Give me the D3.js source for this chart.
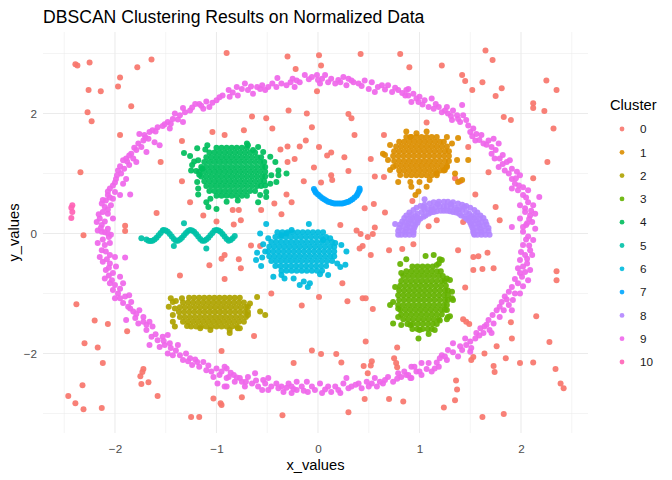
<!DOCTYPE html>
<html><head><meta charset="utf-8">
<script src="https://cdn.jsdelivr.net/npm/d3@7"></script>
<style>body{margin:0;background:#fff;} text{font-family:"Liberation Sans",Arial,Helvetica,sans-serif;}</style>
</head><body><svg id="c" width="672" height="480"></svg>
<script>
const clusterLabels = ["0","1","2","3","4","5","6","7","8","9","10"];
const clusterColors = ["#F8766D","#DB8E00","#AEA200","#64B200","#00BD5C","#00C1A7","#00BADE","#00A6FF","#B385FF","#EF67EB","#FF63B6"];
const xMajor = [-2,-1,0,1,2], xMinor = [-2.5,-1.5,-0.5,0.5,1.5,2.5];
const yMajor = [-2,0,2], yMinor = [-3,-1,1,3];

// cluster 0 (noise)
const noise = [[-2.39,2.82],[-2.37,2.80],[-2.25,2.85],[-1.64,2.90],[-1.78,2.77],[-1.95,2.60],[-1.97,2.45],[-2.26,2.39],[-2.14,2.37],[-1.84,2.12],[-2.27,2.02],[-2.23,1.87],[-1.95,1.64],[-1.04,1.69],[-0.92,1.64],[-1.34,1.54],[-1.55,1.19],[-2.34,1.02],[-1.34,0.87],[-1.26,0.52],[-1.59,0.34],[-1.13,0.30],[-1.00,0.20],[-1.90,0.13],[-1.90,0.04],[-0.90,3.01],
[-0.30,2.95],[0.01,2.97],[0.42,2.99],[0.81,2.99],[0.03,2.80],[-0.22,2.74],[-0.01,2.37],[-0.29,2.05],[-0.11,2.00],[-0.65,1.95],[-0.51,1.92],[0.30,1.99],[0.33,1.92],[-0.45,1.75],[-0.73,1.72],[-0.06,1.77],[0.36,1.64],[0.65,1.64],[-0.12,1.55],[-0.30,1.45],[-0.18,1.45],[-0.37,1.40],[0.01,1.44],[0.13,1.35],[0.09,1.30],[0.26,1.27],[0.52,1.24],[-0.23,1.24],[-0.30,1.19],[-0.04,1.10],[0.30,1.04],[0.13,0.97],[0.14,0.89],[0.56,0.95],[0.65,0.94],[-0.14,0.87],[0.03,0.85],[-0.31,0.65],[-0.43,0.50],[-0.26,0.52],[-0.84,0.39],[-0.78,0.39],[-0.56,0.39],[-0.36,0.32],[0.46,0.42],[0.55,0.49],[0.66,0.35],[-0.83,0.15],[-0.76,0.22],[0.22,0.14],[0.38,0.05],[0.56,0.10],[0.90,2.77],
[1.22,2.80],[1.65,3.05],[1.72,2.89],[1.42,2.64],[1.45,2.54],[1.62,2.52],[1.81,2.42],[1.52,2.39],[1.75,2.29],[2.25,2.55],[2.35,2.39],[2.12,2.17],[2.12,2.09],[2.23,2.04],[2.32,1.75],[1.83,1.94],[1.90,1.89],[1.07,1.85],[1.48,1.44],[2.26,1.19],[1.68,1.02],[1.35,0.92],[1.40,0.87],[2.12,0.92],[1.55,0.65],[0.93,0.54],[1.75,0.44],[1.79,0.22],[1.17,0.22],[1.09,0.12],[1.43,0.19],
[-0.66,-0.20],[-0.57,-0.21],[-0.78,-0.43],[-0.76,-0.58],[-0.92,-0.36],[-0.95,-0.42],[-0.92,-0.76],[-1.07,-0.53],[-1.36,-0.70],[-0.46,-1.00],[-0.16,-1.20],[0.01,-1.06],[0.24,-0.83],[0.29,-1.13],[-0.63,-1.71],[-0.06,-1.95],[0.03,-2.01],[0.18,-2.01],[0.23,-2.15],[-0.24,-2.16],[0.42,-0.01],[0.49,-0.06],[0.54,-0.01],[0.44,-0.21],[0.41,-0.25],[0.52,-0.36],[0.70,-0.28],[0.83,-0.26],[0.94,-0.18],[0.44,-1.08],[0.47,-1.08],[0.54,-1.26],[0.47,-1.80],[0.78,-1.90],[0.75,-2.08],[0.77,-2.16],[0.78,-2.23],[0.53,-2.13],[0.52,-2.20],[0.45,-2.21],[0.49,-2.33],[-0.75,-2.73],[0.46,-2.76],[0.70,-2.76],[0.84,-2.80],[-0.35,-3.03],[0.30,-2.98],
[1.38,-0.28],[1.53,-0.39],[1.58,-0.38],[1.67,-0.32],[1.62,-0.59],[1.53,-0.61],[1.73,-0.58],[1.45,-0.90],[1.43,-1.43],[1.46,-1.47],[1.49,-1.51],[1.90,-1.48],[2.15,-1.38],[2.35,-0.63],[2.35,-0.78],[1.91,-1.75],[1.76,-1.88],[1.64,-2.00],[1.53,-2.06],[1.51,-2.11],[1.85,-2.08],[1.99,-2.16],[2.12,-2.15],[2.28,-1.81],[1.73,-2.21],[1.74,-2.31],[2.34,-2.26],[2.39,-2.50],[2.42,-2.58],[1.36,-2.45],[1.37,-2.60],[1.35,-2.78],[1.24,-2.90],[1.62,-3.06],[1.83,-3.01],
[-2.31,-0.03],[-2.38,-1.18],[-2.20,-1.45],[-2.07,-1.51],[-1.88,-1.63],[-2.30,-1.83],[-2.17,-1.90],[-2.12,-2.16],[-1.72,-2.26],[-1.73,-2.31],[-1.75,-2.38],[-1.67,-2.48],[-1.74,-2.51],[-2.32,-2.53],[-2.46,-2.71],[-2.39,-2.83],[-2.31,-2.93],[-2.13,-2.91],[-1.58,-2.71],[-0.95,-1.96],[-1.03,-2.75],[-0.96,-2.83],[-0.95,-2.86],[-1.25,-3.06],[-1.17,-3.06]];

// cluster 9 (ring)
const ring = [[-0.94,2.30],[-1.00,2.22],[-1.10,2.20],[-1.17,2.16],[-1.21,2.16],[-1.07,2.11],[-1.13,2.08],[-1.26,2.05],[-1.31,2.02],[-1.33,2.09],[-1.41,2.00],[-1.38,1.90],[-1.33,1.86],[-1.43,1.91],[-1.48,1.86],[-1.46,1.75],[-1.53,1.79],[-1.58,1.77],[-1.63,1.72],[-1.66,1.69],[-1.71,1.64],[-1.76,1.66],[-1.72,1.55],[-1.67,1.58],[-1.61,1.52],[-1.56,1.47],[-1.69,1.36],[-1.74,1.44],[-1.79,1.39],[-1.84,1.33],[-1.89,1.25],[-1.92,1.22],[-1.82,1.25],[-1.79,1.19],[-1.86,1.14],[-1.91,1.08],[-1.97,1.05],[-1.94,1.00],[-1.89,0.91],[-1.92,0.83],[-1.99,0.91],[-2.02,0.80],[-2.05,0.75],[-2.00,0.69],[-1.95,0.64],[-2.07,0.64],[-2.09,0.55],[-2.02,0.58],[-2.04,0.47],[-2.10,0.44],[-2.13,0.50],[-2.12,0.36],[-2.07,0.33],[-2.02,0.25],[-2.15,0.25],[-2.18,0.19],[-2.13,0.14],[-2.07,0.08],[-1.85,0.65],[-2.10,0.02],[-2.17,0.05],
[-0.88,2.39],[-0.87,2.28],[-0.80,2.44],[-0.79,2.30],[-0.72,2.50],[-0.69,2.39],[-0.64,2.33],[-0.60,2.44],[-0.55,2.47],[-0.52,2.39],[-0.49,2.44],[-0.41,2.44],[-0.31,2.47],[-0.27,2.52],[-0.23,2.44],[-0.18,2.52],[-0.13,2.64],[-0.06,2.61],[-0.01,2.64],[0.04,2.58],[0.07,2.64],[0.02,2.50],[0.10,2.52],[0.17,2.50],[0.22,2.52],[0.25,2.61],[0.30,2.58],[0.28,2.47],[0.35,2.52],[0.40,2.50],[0.46,2.55],[0.53,2.52],[0.50,2.41],[0.56,2.36],[0.63,2.47],[0.69,2.47],[0.73,2.36],[0.79,2.39],[0.86,2.30],[0.89,2.41],[-0.25,2.58],[-0.40,2.59],
[0.87,2.39],[0.89,2.30],[0.94,2.33],[0.92,2.19],[1.00,2.28],[0.99,2.19],[1.05,2.22],[1.12,2.25],[1.09,2.11],[1.14,2.08],[1.19,2.11],[1.22,2.02],[1.27,2.11],[1.28,2.00],[1.33,2.05],[1.37,1.97],[1.32,1.89],[1.38,1.91],[1.43,1.97],[1.46,1.89],[1.42,2.14],[1.50,1.69],[1.53,1.75],[1.56,1.66],[1.55,1.55],[1.61,1.64],[1.63,1.50],[1.68,1.55],[1.71,1.44],[1.73,1.58],[1.78,1.50],[1.71,1.33],[1.74,1.25],[1.79,1.25],[1.78,1.11],[1.86,1.19],[1.89,1.22],[1.84,1.05],[1.91,1.08],[1.96,1.03],[1.91,0.91],[1.94,0.83],[1.99,0.97],[1.91,0.75],[1.97,0.72],[2.02,0.77],[2.07,0.72],[2.02,0.64],[1.99,0.47],[2.07,0.52],[2.12,0.47],[2.04,0.36],[2.09,0.30],[2.14,0.33],[2.11,0.19],[2.06,0.17],[1.99,0.25],[2.02,0.11],[2.14,0.08],[1.91,0.11],[2.18,0.61],
[2.02,0.03],[2.07,-0.05],[2.12,-0.11],[2.02,-0.19],[2.09,-0.28],[2.04,-0.36],[2.11,-0.36],[1.99,-0.44],[2.06,-0.50],[1.97,-0.58],[2.04,-0.64],[2.09,-0.61],[2.01,-0.72],[1.97,-0.83],[2.07,-0.78],[1.91,-0.89],[1.88,-0.97],[1.94,-1.00],[1.99,-1.00],[1.84,-1.05],[1.92,-1.11],[1.81,-1.14],[1.88,-1.19],[1.76,-1.28],[1.83,-1.28],[1.91,-1.28],[1.79,-1.39],[1.73,-1.50],[1.68,-1.44],[1.64,-1.55],[1.60,-1.58],[1.69,-1.61],[1.56,-1.66],[1.55,-1.75],[1.63,-1.66],[1.45,-1.75],[1.46,-1.86],[1.51,-1.91],[1.42,-1.94],[1.38,-2.05],[1.28,-1.94],[1.22,-2.03],[1.20,-2.08],[1.27,-2.11],[1.15,-2.25],[1.19,-2.22],[1.12,-2.30],[1.02,-2.16],[1.00,-2.30],[1.02,-2.36],[0.92,-2.22],[0.95,-2.22],[0.89,-2.36],[0.92,-2.41],[1.09,-2.16],[1.33,-1.83],[1.71,-1.66],[1.50,-1.97],
[-0.90,-2.25],[-0.88,-2.39],[-0.90,-2.55],[-0.83,-2.36],[-0.77,-2.41],[-0.75,-2.47],[-0.69,-2.39],[-0.62,-2.33],[-0.65,-2.50],[-0.59,-2.55],[-0.54,-2.44],[-0.49,-2.41],[-0.55,-2.61],[-0.46,-2.55],[-0.41,-2.50],[-0.36,-2.55],[-0.29,-2.50],[-0.34,-2.64],[-0.26,-2.66],[-0.21,-2.61],[-0.16,-2.55],[-0.11,-2.47],[-0.10,-2.64],[-0.03,-2.61],[0.02,-2.50],[0.04,-2.66],[0.10,-2.55],[0.13,-2.64],[0.20,-2.61],[0.25,-2.50],[0.28,-2.41],[0.33,-2.55],[0.40,-2.50],[0.43,-2.58],[0.48,-2.47],[0.56,-2.41],[0.58,-2.55],[0.64,-2.50],[0.69,-2.39],[0.74,-2.47],[0.79,-2.33],[0.82,-2.39],[0.87,-2.36],[0.91,-2.41],[-0.21,-2.47],[-0.72,-2.55],[-0.82,-2.47],[-0.49,-2.61],[-0.26,-2.55],[0.22,-2.66],[0.53,-2.50],
[-2.13,0.03],[-2.07,0.00],[-2.04,-0.02],[-2.17,-0.16],[-2.10,-0.19],[-2.05,-0.16],[-2.13,-0.28],[-2.15,-0.39],[-2.05,-0.36],[-2.00,-0.39],[-2.12,-0.47],[-2.05,-0.50],[-1.99,-0.55],[-2.09,-0.61],[-2.02,-0.66],[-1.95,-0.72],[-2.10,-0.75],[-2.05,-0.83],[-2.00,-0.86],[-1.92,-0.83],[-2.02,-0.94],[-1.97,-1.00],[-2.00,-1.08],[-1.90,-1.05],[-1.86,-1.03],[-1.92,-1.16],[-1.87,-1.22],[-1.84,-1.14],[-1.82,-1.30],[-1.76,-1.28],[-1.89,-1.44],[-1.80,-1.41],[-1.77,-1.50],[-1.72,-1.39],[-1.69,-1.52],[-1.66,-1.47],[-1.63,-1.55],[-1.69,-1.61],[-1.64,-1.72],[-1.58,-1.78],[-1.53,-1.72],[-1.48,-1.69],[-1.56,-1.89],[-1.51,-1.86],[-1.46,-1.83],[-1.45,-1.91],[-1.48,-2.00],[-1.43,-2.03],[-1.38,-1.86],[-1.36,-2.03],[-1.30,-2.00],[-1.33,-2.11],[-1.26,-2.08],[-1.24,-2.19],[-1.19,-2.14],[-1.17,-2.22],[-1.13,-2.14],[-1.10,-2.28],[-1.05,-2.30],[-1.00,-2.25],[-1.03,-2.39],[-0.97,-2.36],[-0.92,-2.22],[-0.90,-2.41],[-0.99,-2.50],[-0.92,-2.55],[-1.66,-1.86],[-1.90,-0.40]];
const ringMore = [[-0.97,2.27],[-1.04,2.18],[-1.15,2.13],[-1.24,2.10],[-1.36,1.97],[-1.45,1.83],[-1.51,1.82],[-1.60,1.70],[-1.70,1.60],[-1.77,1.50],[-1.81,1.43],[-1.86,1.30],[-1.88,1.20],[-1.95,1.12],[-1.98,0.97],[-2.00,0.85],[-2.07,0.70],[-2.05,0.60],[-2.12,0.56],[-2.07,0.40],[-2.16,0.32],[-2.10,0.20],[-2.14,0.09],
[-0.84,2.35],[-0.75,2.41],[-0.66,2.45],[-0.57,2.41],[-0.45,2.50],[-0.36,2.50],[-0.21,2.55],[-0.09,2.57],[0.00,2.56],[0.13,2.58],[0.20,2.56],[0.33,2.55],[0.43,2.46],[0.59,2.44],[0.66,2.40],[0.76,2.43],[0.83,2.34],
[0.97,2.25],[1.03,2.15],[1.16,2.16],[1.25,2.05],[1.31,1.96],[1.40,1.86],[1.48,1.80],[1.52,1.62],[1.59,1.56],[1.66,1.48],[1.75,1.39],[1.82,1.31],[1.82,1.16],[1.88,1.00],[1.95,0.92],[1.98,0.80],[2.05,0.60],[2.04,0.42],[2.10,0.38],[2.08,0.24],[2.05,0.14],
[2.05,-0.10],[2.08,-0.20],[2.00,-0.31],[2.06,-0.42],[2.02,-0.55],[1.99,-0.66],[1.94,-0.76],[2.02,-0.88],[1.86,-1.10],[1.79,-1.22],[1.72,-1.36],[1.66,-1.52],[1.59,-1.70],[1.50,-1.80],[1.40,-1.88],[1.33,-1.98],[1.25,-2.05],[1.17,-2.15],[1.07,-2.26],[0.97,-2.30],[0.85,-2.30],
[0.78,-2.42],[0.66,-2.44],[0.61,-2.47],[0.50,-2.55],[0.37,-2.52],[0.30,-2.58],[0.17,-2.55],[0.07,-2.60],[-0.06,-2.55],[-0.14,-2.62],[-0.24,-2.59],[-0.31,-2.57],[-0.39,-2.58],[-0.52,-2.50],[-0.61,-2.45],[-0.71,-2.47],[-0.80,-2.40],[-0.86,-2.32],
[-0.95,-2.30],[-1.08,-2.20],[-1.21,-2.10],[-1.28,-2.13],[-1.40,-1.95],[-1.52,-1.79],[-1.60,-1.68],[-1.72,-1.47],[-1.79,-1.34],[-1.85,-1.25],[-1.95,-1.08],[-1.95,-0.92],[-2.03,-0.78],[-2.06,-0.70],[-2.06,-0.57],[-2.08,-0.43],[-2.09,-0.30],[-2.12,-0.10],[-2.06,-0.06]];

// cluster 10
const cluster10 = [[-2.42,0.47],[-2.43,0.43],[-2.42,0.36],[-2.43,0.26]];

// dense blobs: each row = [y, x1, x2, ...]
const cluster1Rows = [[1.61,0.87,0.92,0.97,1.02,1.07,1.12,1.17],[1.53,0.80,0.85,0.90,0.95,1.00,1.05,1.10,1.15,1.20,1.24],[1.45,0.77,0.82,0.87,0.92,0.97,1.02,1.07,1.12,1.17,1.22,1.27],[1.37,0.75,0.80,0.85,0.90,0.95,1.00,1.05,1.10,1.15,1.20,1.25,1.29],[1.29,0.74,0.79,0.84,0.89,0.94,0.99,1.04,1.09,1.14,1.19,1.24,1.29],[1.21,0.75,0.80,0.85,0.90,0.95,1.00,1.05,1.10,1.15,1.20,1.25,1.29],[1.13,0.77,0.82,0.87,0.92,0.97,1.02,1.07,1.12,1.17,1.22,1.27],[1.05,0.80,0.85,0.90,0.95,1.00,1.05,1.10,1.15,1.20,1.24],[0.97,0.87,0.92,0.97,1.02,1.07,1.12,1.17]];
const cluster1Out = [[0.66,1.31],[0.64,1.33],[0.71,1.475],[0.69,1.225],[0.74,1.11],[0.71,1.06],[0.79,0.86],[0.81,0.975],[0.91,0.86],[0.92,0.78],[0.99,0.70],[0.96,0.64],[1.07,0.78],[1.00,0.86],[1.10,0.89],[1.17,1.00],[1.25,1.06],[1.27,1.11],[1.35,1.00],[1.38,0.86],[1.42,0.89],[1.37,1.225],[1.48,1.225],[1.32,1.50],[1.38,1.59],[1.27,1.61],[1.07,1.70],[0.97,1.67],[0.87,1.70],[0.91,1.61]];

const cluster2Rows = [[-1.07,-1.27,-1.22,-1.17,-1.12,-1.07,-1.02,-0.97,-0.92,-0.87,-0.82,-0.77],[-1.15,-1.33,-1.28,-1.23,-1.18,-1.13,-1.08,-1.03,-0.98,-0.93,-0.88,-0.83,-0.78,-0.73],[-1.23,-1.36,-1.31,-1.26,-1.21,-1.16,-1.11,-1.06,-1.01,-0.96,-0.91,-0.86,-0.81,-0.76,-0.71],[-1.31,-1.37,-1.32,-1.27,-1.22,-1.17,-1.12,-1.07,-1.02,-0.97,-0.92,-0.87,-0.82,-0.77,-0.72,-0.69],[-1.39,-1.36,-1.31,-1.26,-1.21,-1.16,-1.11,-1.06,-1.01,-0.96,-0.91,-0.86,-0.81,-0.76,-0.71],[-1.47,-1.33,-1.28,-1.23,-1.18,-1.13,-1.08,-1.03,-0.98,-0.93,-0.88,-0.83,-0.78,-0.73],[-1.55,-1.25,-1.20,-1.15,-1.10,-1.05,-1.00,-0.95,-0.90,-0.85,-0.80]];
const cluster2Out = [[-1.47,-1.22],[-1.43,-1.14],[-1.41,-1.25],[-1.43,-1.36],[-1.43,-1.47],[-1.41,-1.55],[-1.34,-1.08],[-0.60,-1.06],[-0.69,-1.22],[-0.57,-1.30],[-0.52,-1.36],[-0.69,-1.36],[-0.87,-1.66],[-1.06,-1.61],[-1.16,-1.58],[-1.29,-1.54],[-0.87,-1.61],[-0.77,-1.58],[-1.45,-1.08],[-1.40,-1.125],[-0.67,-1.165],[-0.79,-1.58]];

const cluster3Rows = [[-0.55,0.93,0.98,1.03,1.08,1.13],[-0.63,0.87,0.92,0.97,1.02,1.07,1.12,1.17,1.21],[-0.71,0.84,0.89,0.94,0.99,1.04,1.09,1.14,1.19,1.23],[-0.79,0.82,0.87,0.92,0.97,1.02,1.07,1.12,1.17,1.22,1.25],[-0.87,0.81,0.86,0.91,0.96,1.01,1.06,1.11,1.16,1.21,1.26],[-0.95,0.80,0.85,0.90,0.95,1.00,1.05,1.10,1.15,1.20,1.25,1.28],[-1.03,0.79,0.84,0.89,0.94,0.99,1.04,1.09,1.14,1.19,1.24,1.28],[-1.11,0.80,0.85,0.90,0.95,1.00,1.05,1.10,1.15,1.20,1.25,1.28],[-1.19,0.79,0.84,0.89,0.94,0.99,1.04,1.09,1.14,1.19,1.24,1.27],[-1.27,0.81,0.86,0.91,0.96,1.01,1.06,1.11,1.16,1.21,1.25],[-1.35,0.82,0.87,0.92,0.97,1.02,1.07,1.12,1.17,1.22],[-1.43,0.84,0.89,0.94,0.99,1.04,1.09,1.14,1.19],[-1.51,0.88,0.93,0.98,1.03,1.08,1.13,1.17],[-1.59,0.93,0.98,1.03,1.08,1.12]];
const cluster3Out = [[0.81,-0.51],[0.87,-0.43],[1.06,-0.375],[1.14,-0.36],[1.22,-0.44],[1.17,-0.525],[1.27,-0.75],[1.30,-0.775],[1.32,-0.97],[1.33,-1.11],[1.27,-1.275],[1.28,-1.39],[1.15,-1.61],[1.09,-1.675],[0.99,-1.75],[1.00,-1.61],[0.91,-1.525],[0.82,-1.525],[0.74,-1.50],[0.71,-1.19],[0.74,-1.14],[0.79,-1.25],[0.79,-1.39],[0.76,-0.89],[0.82,-0.66],[1.20,-0.43],[1.19,-0.50],[1.32,-1.08],[1.30,-1.38],[1.27,-1.43],[1.20,-1.45]];

const cluster4Rows = [[1.43,-1.00,-0.95,-0.90,-0.85,-0.80,-0.75,-0.70],[1.35,-1.07,-1.02,-0.97,-0.92,-0.87,-0.82,-0.77,-0.72,-0.67,-0.62],[1.27,-1.10,-1.05,-1.00,-0.95,-0.90,-0.85,-0.80,-0.75,-0.70,-0.65,-0.60,-0.56],[1.19,-1.12,-1.07,-1.02,-0.97,-0.92,-0.87,-0.82,-0.77,-0.72,-0.67,-0.62,-0.57,-0.53],[1.11,-1.15,-1.10,-1.05,-1.00,-0.95,-0.90,-0.85,-0.80,-0.75,-0.70,-0.65,-0.60,-0.55,-0.52],[1.03,-1.17,-1.12,-1.07,-1.02,-0.97,-0.92,-0.87,-0.82,-0.77,-0.72,-0.67,-0.62,-0.57,-0.52],[0.95,-1.15,-1.10,-1.05,-1.00,-0.95,-0.90,-0.85,-0.80,-0.75,-0.70,-0.65,-0.60,-0.55,-0.52],[0.87,-1.12,-1.07,-1.02,-0.97,-0.92,-0.87,-0.82,-0.77,-0.72,-0.67,-0.62,-0.57,-0.53],[0.79,-1.10,-1.05,-1.00,-0.95,-0.90,-0.85,-0.80,-0.75,-0.70,-0.65,-0.60,-0.56],[0.71,-1.07,-1.02,-0.97,-0.92,-0.87,-0.82,-0.77,-0.72,-0.67,-0.62],[0.63,-1.00,-0.95,-0.90,-0.85,-0.80,-0.75,-0.70]];
const cluster4Out = [[-1.09,1.47],[-1.11,1.40],[-1.19,1.42],[-1.32,1.34],[-1.26,1.29],[-1.18,1.22],[-1.22,1.20],[-1.24,1.14],[-1.25,1.05],[-1.20,1.04],[-1.17,0.98],[-1.14,1.08],[-1.19,0.86],[-1.18,0.75],[-1.18,0.65],[-1.10,0.52],[-1.08,0.44],[-1.00,0.41],[-1.06,0.58],[-0.70,1.50],[-0.59,1.44],[-0.54,1.36],[-0.47,1.28],[-0.42,1.19],[-0.39,1.05],[-0.46,0.97],[-0.39,0.97],[-0.41,0.86],[-0.47,0.83],[-0.52,0.80],[-0.51,0.69],[-0.57,0.64],[-0.51,0.61],[-0.59,0.52],[-0.31,1.00],[-0.79,0.55],[-0.69,1.47],[-0.64,1.39],[-0.90,0.53]];

const cluster5Wave = [[-1.69,-0.10],[-1.67,-0.12],[-1.65,-0.125],[-1.63,-0.12],[-1.61,-0.10],[-1.59,-0.07],[-1.57,-0.03],[-1.55,0.01],[-1.53,0.05],[-1.52,0.06],[-1.50,0.05],[-1.48,0.03],[-1.46,-0.01],[-1.44,-0.05],[-1.42,-0.09],[-1.40,-0.12],[-1.38,-0.12],[-1.36,-0.10],[-1.34,-0.07],[-1.32,-0.03],[-1.30,0.01],[-1.28,0.04],[-1.26,0.06],[-1.24,0.05],[-1.22,0.03],[-1.20,-0.01],[-1.18,-0.05],[-1.16,-0.09],[-1.14,-0.12],[-1.12,-0.12],[-1.10,-0.10],[-1.08,-0.07],[-1.06,-0.03],[-1.04,0.01],[-1.02,0.05],[-1.00,0.06],[-0.98,0.05],[-0.96,0.03],[-0.94,-0.01],[-0.92,-0.05],[-0.90,-0.09],[-0.88,-0.12],[-0.86,-0.11],[-0.84,-0.08],[-0.82,-0.04]];
const cluster5Out = [[-1.74,-0.08],[-1.32,0.17],[-1.42,-0.21],[-1.10,-0.25]];

const cluster6Rows = [[0.02,-0.40,-0.35,-0.30,-0.25,-0.20,-0.15,-0.10,-0.05,0.00,0.05],[-0.06,-0.42,-0.37,-0.32,-0.27,-0.22,-0.17,-0.12,-0.07,-0.02,0.03,0.08],[-0.14,-0.46,-0.41,-0.36,-0.31,-0.26,-0.21,-0.16,-0.11,-0.06,-0.01,0.04,0.09,0.14],[-0.22,-0.48,-0.43,-0.38,-0.33,-0.28,-0.23,-0.18,-0.13,-0.08,-0.03,0.02,0.07,0.12,0.16],[-0.30,-0.49,-0.44,-0.39,-0.34,-0.29,-0.24,-0.19,-0.14,-0.09,-0.04,0.01,0.06,0.11,0.16],[-0.38,-0.48,-0.43,-0.38,-0.33,-0.28,-0.23,-0.18,-0.13,-0.08,-0.03,0.02,0.07,0.12,0.16],[-0.46,-0.46,-0.41,-0.36,-0.31,-0.26,-0.21,-0.16,-0.11,-0.06,-0.01,0.04,0.09,0.14],[-0.54,-0.42,-0.37,-0.32,-0.27,-0.22,-0.17,-0.12,-0.07,-0.02,0.03,0.08],[-0.62,-0.36,-0.31,-0.26,-0.21,-0.16,-0.11,-0.06,-0.01,0.04]];
const cluster6Out = [[-0.51,0.16],[-0.57,0.00],[-0.60,-0.32],[-0.61,-0.44],[-0.55,-0.40],[-0.56,-0.54],[-0.44,-0.72],[-0.36,-0.69],[-0.33,-0.75],[-0.24,-0.75],[-0.18,-0.86],[-0.14,-0.80],[-0.10,-0.89],[-0.08,-0.83],[0.02,-0.68],[0.10,-0.69],[0.19,-0.50],[0.22,-0.56],[0.28,-0.30],[0.27,-0.52],[0.12,-0.08],[0.05,-0.11],[-0.09,0.16],[-0.26,0.06],[-0.31,0.00],[-0.52,-0.30],[-0.54,-0.18],[-0.49,-0.08],[-0.36,-0.03],[0.23,-0.19],[0.17,-0.16]];

const cluster7Arc = [[-0.04,0.74],[-0.03,0.71],[-0.02,0.68],[0.00,0.65],[0.02,0.62],[0.04,0.59],[0.06,0.57],[0.08,0.55],[0.10,0.53],[0.12,0.52],[0.14,0.51],[0.16,0.50],[0.18,0.50],[0.20,0.50],[0.22,0.50],[0.24,0.50],[0.26,0.51],[0.28,0.52],[0.30,0.53],[0.32,0.55],[0.34,0.57],[0.36,0.60],[0.38,0.63],[0.39,0.66],[0.40,0.69],[0.41,0.72],[0.41,0.75]];

const cluster8Arch = [[1.69,-0.02],[1.68,0.04],[1.68,0.09],[1.66,0.15],[1.65,0.20],[1.63,0.26],[1.60,0.30],[1.57,0.35],[1.54,0.39],[1.50,0.43],[1.46,0.46],[1.42,0.48],[1.38,0.50],[1.33,0.52],[1.28,0.53],[1.24,0.53],[1.19,0.53],[1.14,0.52],[1.10,0.50],[1.05,0.48],[1.01,0.46],[0.97,0.43],[0.94,0.39],[0.90,0.35],[0.87,0.30],[0.85,0.26],[0.83,0.20],[0.81,0.15],[0.80,0.09],[0.79,0.04],[0.79,-0.02],
[1.61,-0.02],[1.61,0.03],[1.60,0.08],[1.59,0.13],[1.58,0.17],[1.56,0.22],[1.54,0.26],[1.51,0.29],[1.49,0.33],[1.46,0.36],[1.42,0.39],[1.39,0.41],[1.35,0.43],[1.31,0.44],[1.27,0.45],[1.24,0.45],[1.20,0.45],[1.16,0.44],[1.12,0.43],[1.08,0.41],[1.05,0.39],[1.02,0.36],[0.98,0.33],[0.96,0.29],[0.93,0.26],[0.91,0.22],[0.89,0.17],[0.88,0.13],[0.87,0.08],[0.86,0.03],[0.86,-0.02],
[1.54,-0.02],[1.53,0.02],[1.53,0.06],[1.52,0.10],[1.51,0.14],[1.50,0.18],[1.48,0.22],[1.46,0.25],[1.44,0.28],[1.41,0.30],[1.39,0.33],[1.36,0.35],[1.33,0.36],[1.30,0.37],[1.27,0.38],[1.24,0.38],[1.21,0.38],[1.17,0.37],[1.14,0.36],[1.11,0.35],[1.09,0.33],[1.06,0.30],[1.04,0.28],[1.01,0.25],[0.99,0.22],[0.98,0.18],[0.96,0.14],[0.95,0.10],[0.94,0.06],[0.94,0.02],[0.94,-0.02]];
const cluster8Fill = [[1.65,-0.02],[1.64,0.05],[1.63,0.12],[1.61,0.19],[1.59,0.25],[1.55,0.31],[0.82,-0.02],[0.83,0.05],[0.84,0.12],[0.86,0.19],[0.89,0.25],[0.92,0.31],
[1.57,-0.02],[1.57,0.04],[1.56,0.10],[1.54,0.16],[1.52,0.21],[1.49,0.26],[0.90,-0.02],[0.90,0.04],[0.91,0.10],[0.93,0.16],[0.95,0.21],[0.98,0.26],
[1.44,0.44],[1.31,0.49],[1.18,0.49],[1.04,0.44],[1.37,0.40],[1.12,0.40]];
const cluster8Out = [[1.05,0.57],[0.76,0.16],[0.94,0.03],[1.54,-0.01]];

// ---- build table ----
const rowsToPts = rows => rows.flatMap(r => r.slice(1).map(x => [x, r[0]]));
const groups = [
  [0, noise],
  [9, ring.concat(ringMore)], [10, cluster10],
  [1, rowsToPts(cluster1Rows).concat(cluster1Out)],
  [2, rowsToPts(cluster2Rows).concat(cluster2Out)],
  [3, rowsToPts(cluster3Rows).concat(cluster3Out)],
  [4, rowsToPts(cluster4Rows).concat(cluster4Out)],
  [5, cluster5Wave.concat(cluster5Out)],
  [6, rowsToPts(cluster6Rows).concat(cluster6Out)],
  [7, cluster7Arc],
  [8, cluster8Arch.concat(cluster8Fill, cluster8Out)]
];
const data = groups.flatMap(([c, pts]) => pts.map(p => ({x: p[0], y: p[1], c})));

const svg = d3.select("#c");
svg.append("rect").attr("width",672).attr("height",480).attr("fill","#fff");
const P = {l:43, r:588, t:32, b:433};
const x = d3.scaleLinear().domain([-2.709, 2.660]).range([P.l, P.r]);
const y = d3.scaleLinear().domain([-3.325, 3.358]).range([P.b, P.t]);

const grid = svg.append("g");
grid.selectAll(".xm").data(xMinor).join("line").attr("x1",d=>x(d)).attr("x2",d=>x(d)).attr("y1",P.t).attr("y2",P.b).attr("stroke","#EBEBEB").attr("stroke-width",0.55);
grid.selectAll(".ym").data(yMinor).join("line").attr("y1",d=>y(d)).attr("y2",d=>y(d)).attr("x1",P.l).attr("x2",P.r).attr("stroke","#EBEBEB").attr("stroke-width",0.55);
grid.selectAll(".xM").data(xMajor).join("line").attr("x1",d=>x(d)).attr("x2",d=>x(d)).attr("y1",P.t).attr("y2",P.b).attr("stroke","#EBEBEB").attr("stroke-width",1.07);
grid.selectAll(".yM").data(yMajor).join("line").attr("y1",d=>y(d)).attr("y2",d=>y(d)).attr("x1",P.l).attr("x2",P.r).attr("stroke","#EBEBEB").attr("stroke-width",1.07);

svg.append("g").selectAll("circle").data(data).join("circle")
  .attr("cx",d=>x(d.x)).attr("cy",d=>y(d.y)).attr("r",3.0)
  .attr("fill",d=>clusterColors[d.c]).attr("fill-opacity",0.93);

// axes tick labels
const xAxis = d3.axisBottom(x).tickValues(xMajor).tickSize(0).tickPadding(0).tickFormat(d3.format("d"));
const gx = svg.append("g").attr("transform",`translate(0,${P.b})`).call(xAxis);
gx.select(".domain").remove();
gx.selectAll("text").attr("y",20).attr("dy",null).attr("fill","#4D4D4D").attr("font-size","11.7px").attr("font-family","Liberation Sans, Arial, sans-serif");
const yAxis = d3.axisLeft(y).tickValues(yMajor).tickSize(0).tickPadding(0).tickFormat(d3.format("d"));
const gy = svg.append("g").attr("transform",`translate(${P.l},0)`).call(yAxis);
gy.select(".domain").remove();
gy.selectAll("text").attr("x",-6).attr("dy","0.35em").attr("fill","#4D4D4D").attr("font-size","11.7px").attr("font-family","Liberation Sans, Arial, sans-serif");

svg.append("text").attr("x",(P.l+P.r)/2).attr("y",470).attr("text-anchor","middle").attr("font-size","14.7px").attr("fill","#000").text("x_values");
svg.append("text").attr("transform",`translate(19,${(P.t+P.b)/2}) rotate(-90)`).attr("text-anchor","middle").attr("font-size","14.7px").attr("fill","#000").text("y_values");
svg.append("text").attr("x",43).attr("y",23).attr("font-size","17.6px").attr("fill","#000").text("DBSCAN Clustering Results on Normalized Data");

// legend
const lg = svg.append("g");
lg.append("text").attr("x",610).attr("y",110).attr("font-size","14.7px").attr("fill","#000").text("Cluster");
const items = lg.selectAll(".it").data(clusterLabels).join("g").attr("transform",(d,i)=>`translate(0,${129+23.3*i})`);
items.append("circle").attr("cx",622).attr("cy",0).attr("r",2.4).attr("fill",(d,i)=>clusterColors[i]).attr("fill-opacity",0.9);
items.append("text").attr("x",640).attr("y",4.2).attr("font-size","11.7px").attr("fill","#1A1A1A").text(d=>d);
</script></body></html>
